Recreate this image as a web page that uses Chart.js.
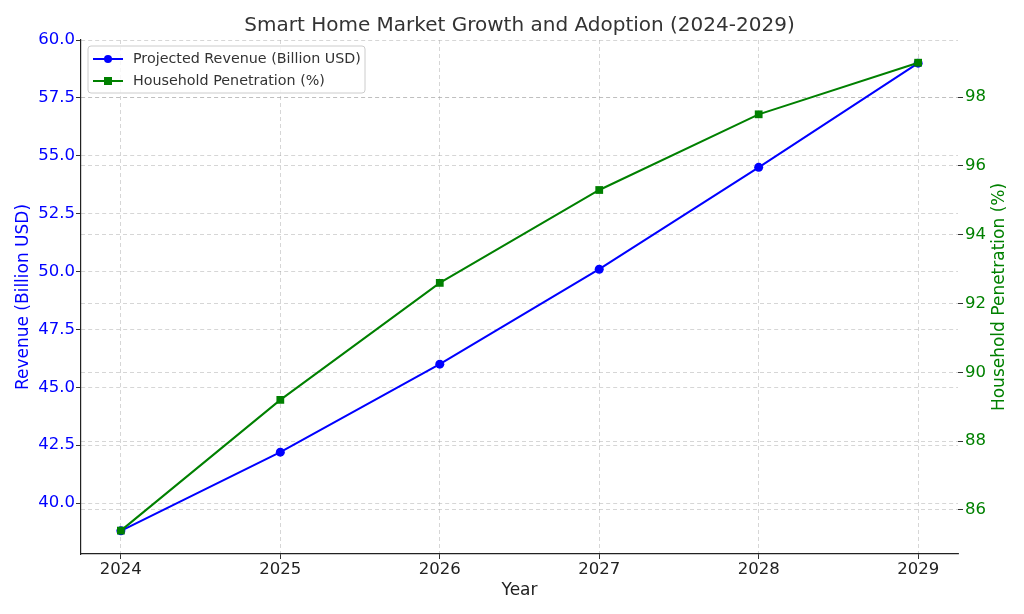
<!DOCTYPE html>
<html>
<head>
<meta charset="utf-8">
<script src="https://cdn.jsdelivr.net/npm/chart.js@4.4.0/dist/chart.umd.min.js"></script>
<style>
html,body{margin:0;padding:0;background:#fff;}
#wrap{width:1024px;height:614px;position:relative;}
</style>
</head>
<body>
<div id="wrap"><canvas id="c" width="1024" height="614"></canvas></div>
<script>
const years = [2024, 2025, 2026, 2027, 2028, 2029];
const revenue = [38.8, 42.2, 46.0, 50.1, 54.5, 59.0];
const penetration = [85.4, 89.2, 92.6, 95.3, 97.5, 99.0];
const revenueTicks = [40.0, 42.5, 45.0, 47.5, 50.0, 52.5, 55.0, 57.5, 60.0];
const penetrationTicks = [86, 88, 90, 92, 94, 96, 98];
const titleText = 'Smart Home Market Growth and Adoption (2024-2029)';
const seriesLabels = ['Projected Revenue (Billion USD)', 'Household Penetration (%)'];
const rightAxisTitle = 'Household Penetration (%)';

const FONT = "'DejaVu Sans', sans-serif";
const BLUE = '#0000ff';
const GREEN = '#008000';
const GRID = 'rgba(160,160,160,0.55)';
const TICK = 16.5;
const AXT = 17;

const titlePlugin = {
  id: 'mplTitle',
  afterDraw(chart) {
    const ctx = chart.ctx;
    const a = chart.chartArea;
    ctx.save();
    ctx.fillStyle = '#333333';
    ctx.font = "20px " + FONT;
    ctx.textAlign = 'center';
    ctx.textBaseline = 'middle';
    ctx.fillText(titleText, (a.left + a.right) / 2, 26);
    ctx.fillStyle = GREEN;
    ctx.font = AXT + "px " + FONT;
    ctx.translate(1000, (a.top + a.bottom) / 2);
    ctx.rotate(-Math.PI / 2);
    ctx.fillText(rightAxisTitle, 0, 0);
    ctx.restore();
  }
};

const legendPlugin = {
  id: 'mplLegend',
  afterDraw(chart) {
    const ctx = chart.ctx;
    const a = chart.chartArea;
    const x = a.left + 7, y = a.top + 6, w = 277, h = 47;
    ctx.save();
    ctx.fillStyle = 'rgba(255,255,255,0.8)';
    ctx.strokeStyle = '#cccccc';
    ctx.lineWidth = 1;
    const r = 3;
    ctx.beginPath();
    ctx.moveTo(x + r, y);
    ctx.lineTo(x + w - r, y); ctx.quadraticCurveTo(x + w, y, x + w, y + r);
    ctx.lineTo(x + w, y + h - r); ctx.quadraticCurveTo(x + w, y + h, x + w - r, y + h);
    ctx.lineTo(x + r, y + h); ctx.quadraticCurveTo(x, y + h, x, y + h - r);
    ctx.lineTo(x, y + r); ctx.quadraticCurveTo(x, y, x + r, y);
    ctx.closePath();
    ctx.fill(); ctx.stroke();
    chart.data.datasets.forEach((ds, i) => {
      const cy = y + 13 + i * 22;
      ctx.strokeStyle = ds.borderColor;
      ctx.lineWidth = 2;
      ctx.beginPath();
      ctx.moveTo(x + 5, cy); ctx.lineTo(x + 35, cy); ctx.stroke();
      ctx.fillStyle = ds.backgroundColor;
      if (ds.pointStyle === 'rect') {
        ctx.fillRect(x + 20 - 4, cy - 4, 8, 8);
      } else {
        ctx.beginPath(); ctx.arc(x + 20, cy, 4, 0, Math.PI * 2); ctx.fill();
      }
      ctx.fillStyle = '#333333';
      ctx.font = "14.3px " + FONT;
      ctx.textAlign = 'left';
      ctx.textBaseline = 'middle';
      ctx.fillText(ds.label, x + 45, cy);
    });
    ctx.restore();
  }
};

new Chart(document.getElementById('c'), {
  type: 'line',
  data: {
    datasets: [
      {
        label: seriesLabels[0],
        data: years.map((yr, i) => ({x: yr, y: revenue[i]})),
        borderColor: BLUE,
        backgroundColor: BLUE,
        borderWidth: 2,
        pointStyle: 'circle',
        pointRadius: 4.5,
        pointBorderWidth: 0,
        yAxisID: 'y',
        order: 2
      },
      {
        label: seriesLabels[1],
        data: years.map((yr, i) => ({x: yr, y: penetration[i]})),
        borderColor: GREEN,
        backgroundColor: GREEN,
        borderWidth: 2,
        pointStyle: 'rect',
        pointRadius: 5.5,
        pointBorderWidth: 0,
        yAxisID: 'y1',
        order: 1
      }
    ]
  },
  options: {
    responsive: false,
    animation: false,
    layout: { padding: { top: 40, left: 0, right: 0, bottom: 0 } },
    plugins: { legend: { display: false }, title: { display: false }, tooltip: { enabled: false } },
    scales: {
      x: {
        type: 'linear',
        min: 2023.75,
        max: 2029.25,
        afterBuildTicks(s) { s.ticks = years.map(v => ({value: v})); },
        afterFit(s) { s.height = 60; },
        ticks: { color: '#222222', font: { family: FONT, size: TICK }, padding: 1, callback: v => String(v) },
        grid: { color: GRID, lineWidth: 0.8, tickColor: '#333333', tickLength: 5, tickWidth: 1 },
        border: { display: true, color: '#222222', width: 1.2, dash: [4, 3] },
        title: { display: true, text: 'Year', color: '#222222', font: { family: FONT, size: AXT }, padding: { top: 0, bottom: 13 } }
      },
      y: {
        position: 'left',
        min: 37.8,
        max: 60,
        afterBuildTicks(s) { s.ticks = revenueTicks.map(v => ({value: v})); },
        afterFit(s) { s.width = 81; },
        ticks: { color: BLUE, font: { family: FONT, size: TICK }, padding: 1, callback: v => v.toFixed(1) },
        grid: { color: GRID, lineWidth: 0.8, tickColor: '#333333', tickLength: 5, tickWidth: 1 },
        border: { display: true, color: '#222222', width: 1.2, dash: [4, 3] },
        title: { display: true, text: 'Revenue (Billion USD)', color: BLUE, font: { family: FONT, size: AXT }, padding: { top: 13, bottom: 0 } }
      },
      y1: {
        position: 'right',
        min: 84.72,
        max: 99.66,
        afterBuildTicks(s) { s.ticks = penetrationTicks.map(v => ({value: v})); },
        afterFit(s) { s.width = 66; },
        ticks: { color: GREEN, font: { family: FONT, size: TICK }, padding: 2, callback: v => String(v) },
        grid: { color: GRID, lineWidth: 0.8, tickColor: '#333333', tickLength: 5, tickWidth: 1 },
        border: { display: false, dash: [4, 3] },
        title: { display: false }
      }
    }
  },
  plugins: [titlePlugin, legendPlugin]
});
</script>
</body>
</html>
